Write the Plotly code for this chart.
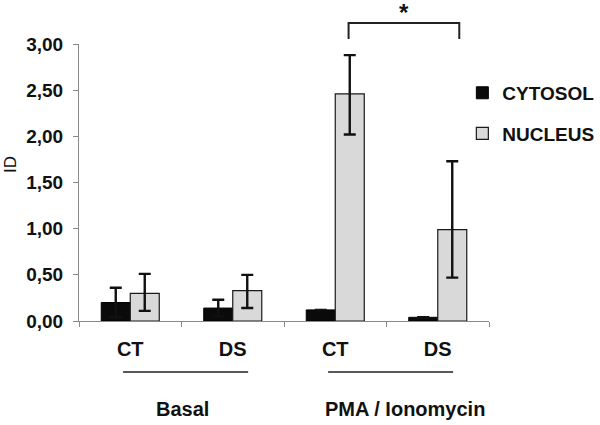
import plotly.graph_objects as go

categories = ["Basal CT", "Basal DS", "PMA CT", "PMA DS"]
tick_labels = ["CT", "DS", "CT", "DS"]
group_labels = ["Basal", "PMA / Ionomycin"]
cytosol = [0.20, 0.14, 0.12, 0.04]
cytosol_err = [0.16, 0.09, 0.0, 0.0]
nucleus = [0.30, 0.33, 2.46, 0.99]
nucleus_err_plus = [0.21, 0.17, 0.42, 0.74]
nucleus_err_minus = [0.19, 0.19, 0.44, 0.52]
y_ticks = [0, 0.5, 1.0, 1.5, 2.0, 2.5, 3.0]

FONT = "Liberation Sans, Arial, sans-serif"

fig = go.Figure()
fig.add_trace(go.Bar(
    x=categories, y=cytosol, name="CYTOSOL", legendgroup="c",
    marker=dict(color="#0a0a0a", line=dict(color="#000000", width=1)),
    error_y=dict(type="data", array=cytosol_err, symmetric=True,
                 color="#111111", thickness=2.4, width=6),
))
fig.add_trace(go.Bar(
    x=categories, y=nucleus, name="NUCLEUS", legendgroup="n",
    marker=dict(color="#d9d9d9", line=dict(color="#1a1a1a", width=1.2)),
    error_y=dict(type="data", array=nucleus_err_plus, arrayminus=nucleus_err_minus,
                 symmetric=False, color="#111111", thickness=2.4, width=6),
))

# group underline lines and labels
line_spans = [(-0.07, 1.15), (1.93, 3.15)]
label_x = [0.51, 2.68]
for (x0, x1), lx, txt in zip(line_spans, label_x, group_labels):
    fig.add_shape(type="line", xref="x", yref="paper", x0=x0, x1=x1,
                  y0=-0.184, y1=-0.184, line=dict(color="#222222", width=1.5))
    fig.add_annotation(x=lx, y=-0.318, xref="x", yref="paper", text=txt,
                       showarrow=False,
                       font=dict(family=FONT, size=20, color="#111111", weight="bold"),
                       xanchor="center", yanchor="middle")

# significance bracket between PMA CT and PMA DS nucleus bars
bx0, bx1 = 2.13, 3.21
by_top, by_bot = 1.076, 1.018
fig.add_shape(type="path", xref="x", yref="paper",
              path=f"M {bx0},{by_bot} L {bx0},{by_top} L {bx1},{by_top} L {bx1},{by_bot}",
              line=dict(color="#222222", width=2))
fig.add_annotation(x=(bx0 + bx1) / 2, y=1.115, xref="x", yref="paper", text="*",
                   showarrow=False,
                   font=dict(family=FONT, size=24, color="#111111", weight="bold"),
                   xanchor="center", yanchor="middle")

# y axis title
fig.add_annotation(xref="paper", yref="paper",
                   x=-(79 - 10) / 410, y=(321 - 165) / 277,
                   text="ID", showarrow=False, textangle=-90,
                   font=dict(family=FONT, size=17, color="#111111"),
                   xanchor="center", yanchor="middle")

fig.update_layout(
    width=600, height=425,
    margin=dict(l=79, r=111, t=44, b=104, autoexpand=False),
    paper_bgcolor="white", plot_bgcolor="white",
    separators=",.",
    barmode="group", bargap=0.434, bargroupgap=0,
    font=dict(family=FONT, size=16, color="#111111"),
    showlegend=True,
    legend=dict(x=0.935, y=0.892, xanchor="left", yanchor="top",
                font=dict(family=FONT, size=19, color="#111111", weight="bold"),
                tracegroupgap=13, bgcolor="rgba(0,0,0,0)", itemwidth=30),
    xaxis=dict(
        type="category", categoryorder="array", categoryarray=categories,
        tickmode="array", tickvals=categories, ticktext=tick_labels,
        tickson="boundaries", ticks="outside", ticklen=5, tickcolor="#888888",
        showline=True, linecolor="#888888", linewidth=1, showgrid=False,
        tickfont=dict(family=FONT, size=20, color="#111111", weight="bold"),
        ticklabelstandoff=10, range=[-0.5, 3.5],
    ),
    yaxis=dict(
        range=[0, 3], tickmode="array", tickvals=y_ticks, tickformat=".2f",
        ticks="outside", ticklen=5, tickcolor="#888888",
        showline=True, linecolor="#888888", linewidth=1, showgrid=False,
        zeroline=False,
        tickfont=dict(family=FONT, size=19, color="#111111", weight="bold"),
        ticklabelstandoff=6,
    ),
)

fig.write_html("out.html", config={"displayModeBar": False},
               post_script="document.body.style.margin='0px';")
